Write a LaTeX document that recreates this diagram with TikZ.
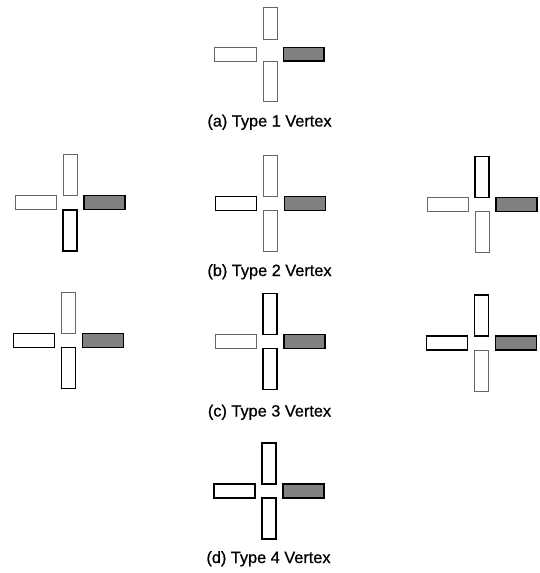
\documentclass[tikz,border=0pt]{standalone}
\usepackage{fontspec}
\setmainfont{Liberation Sans}
\newfontfamily\lblfont{Liberation Sans}[FakeBold=0.8]
\tikzset{
  thinbar/.style={draw=black!60, line width=0.8pt},
  thickbar/.style={draw=black, line width=1.7pt},
  spinbar/.style={draw=black, line width=1.2pt, fill=black!50},
  lbl/.style={anchor=base, inner sep=0pt, font=\lblfont\fontsize{16.3}{19}\selectfont}
}
% #1 cx, #2 cy, #3 left style, #4 top style, #5 bottom style
\newcommand{\vtxdraw}[5]{%
  \draw[#3] (#1-55,#2-7) rectangle (#1-14,#2+7);
  \draw[spinbar] (#1+14,#2-7) rectangle (#1+55,#2+7);
  \draw[#4] (#1-7,#2-48) rectangle (#1+7,#2-7);
  \draw[#5] (#1-7,#2+7) rectangle (#1+7,#2+48);
}
\begin{document}
\begin{tikzpicture}[x=1pt,y=-1pt]
\useasboundingbox[fill=white] (0,0) rectangle (539,573);
% (a) Type 1
\draw[thinbar] (214.7,47.5) rectangle (256,61);
\draw[spinbar] (283.3,47.5) rectangle (324,61);
\draw[thinbar] (263.3,7.3) rectangle (277.3,39.3);
\draw[thinbar] (263.3,61.3) rectangle (277.3,101.7);
\node[lbl] (la) at (269.5,126.5) {(a) Type 1 Vertex};
% (b) Type 2
\vtxdraw{70}{202.7}{thinbar}{thinbar}{thickbar}
\vtxdraw{270.5}{203.4}{thickbar}{thinbar}{thinbar}
\vtxdraw{482}{204.5}{thinbar}{thickbar}{thinbar}
\node[lbl] (lb) at (269.5,276) {(b) Type 2 Vertex};
% (c) Type 3
\vtxdraw{68.5}{340.6}{thickbar}{thinbar}{thickbar}
\vtxdraw{270}{341.5}{thinbar}{thickbar}{thickbar}
\vtxdraw{481.5}{343}{thickbar}{thickbar}{thinbar}
\node[lbl] (lc) at (269.5,416.5) {(c) Type 3 Vertex};
% (d) Type 4
\vtxdraw{269}{491}{thickbar}{thickbar}{thickbar}
\node[lbl] (ld) at (268.5,563) {(d) Type 4 Vertex};
\end{tikzpicture}
\end{document}
